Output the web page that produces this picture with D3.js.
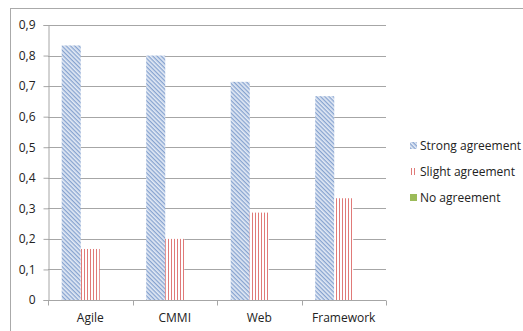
<!DOCTYPE html>
<html>
<head>
<meta charset="utf-8">
<script src="https://cdn.jsdelivr.net/npm/d3@7"></script>
<style>
  body { margin: 0; background: #fff; }
  text { font-family: "Open Sans", "Liberation Sans", sans-serif; fill: #222; }
</style>
</head>
<body>
<div id="chart"></div>
<script>
// datos
const categorias = ["Agile", "CMMI", "Web", "Framework"];
const series = ["Strong agreement", "Slight agreement", "No agreement"];
const strong = [0.833, 0.8, 0.714, 0.667];
const slight = [0.167, 0.2, 0.286, 0.333];
const none = [0, 0, 0, 0];
const yTicks = [0, 0.1, 0.2, 0.3, 0.4, 0.5, 0.6, 0.7, 0.8, 0.9];

const valores = [strong, slight, none];
const fills = ["url(#hatchBlue)", "url(#stripeRed)", "#9bbb59"];

const W = 523, H = 331;
const margin = { top: 25, left: 48, right: 137, bottom: 31 };

const svg = d3.select("#chart").append("svg")
  .attr("width", W).attr("height", H);

// patrones
const defs = svg.append("defs");
const pb = defs.append("pattern").attr("id", "hatchBlue")
  .attr("patternUnits", "userSpaceOnUse").attr("width", 3).attr("height", 3)
  .attr("patternTransform", "rotate(45)");
pb.append("rect").attr("width", 3).attr("height", 3).attr("fill", "#e3eaf5");
pb.append("rect").attr("width", 3).attr("height", 1.3).attr("fill", "#86a3d0");

const pr = defs.append("pattern").attr("id", "stripeRed")
  .attr("patternUnits", "userSpaceOnUse").attr("width", 3).attr("height", 3);
pr.append("rect").attr("width", 3).attr("height", 3).attr("fill", "#fff");
pr.append("rect").attr("width", 1).attr("height", 3).attr("fill", "#e07a78");

// borde exterior
svg.append("rect")
  .attr("x", 10.5).attr("y", 8.5)
  .attr("width", W + 20).attr("height", H + 20)
  .attr("fill", "none").attr("stroke", "#aaa");

const x = d3.scaleBand().domain(categorias)
  .range([margin.left, W - margin.right]);
const x1 = d3.scaleBand().domain(d3.range(series.length))
  .range([0, x.bandwidth()]).paddingOuter(0.72).paddingInner(0);
const y = d3.scaleLinear().domain([0, 0.9])
  .range([H - margin.bottom, margin.top]);

// líneas de cuadrícula
svg.append("g").selectAll("line").data(yTicks.slice(1)).join("line")
  .attr("x1", margin.left).attr("x2", W - margin.right)
  .attr("y1", d => Math.round(y(d)) + 0.5).attr("y2", d => Math.round(y(d)) + 0.5)
  .attr("stroke", "#a6a6a6");

// barras
const g = svg.append("g");
valores.forEach((vals, s) => {
  g.selectAll(null).data(vals).join("rect")
    .attr("x", (d, i) => x(categorias[i]) + x1(s))
    .attr("width", x1.bandwidth())
    .attr("y", d => y(d))
    .attr("height", d => y(0) - y(d))
    .attr("fill", fills[s]);
});

// eje Y
const ay = svg.append("g")
  .attr("transform", `translate(${margin.left + 0.5},0)`)
  .call(d3.axisLeft(y).tickValues(yTicks).tickSize(5).tickPadding(8)
    .tickFormat(d => d3.format(".1f")(d).replace(".", ",").replace(/^0,0$/, "0")));
ay.select(".domain").attr("stroke", "#a6a6a6");
ay.selectAll(".tick line").attr("stroke", "#a6a6a6");
ay.selectAll("text").style("font-size", "12px").attr("fill", "#222");

// eje X
const ax = svg.append("g")
  .attr("transform", `translate(0,${Math.round(y(0)) + 0.5})`);
ax.append("line")
  .attr("x1", margin.left).attr("x2", W - margin.right)
  .attr("stroke", "#a6a6a6");
ax.selectAll(".sep").data(categorias.concat([null])).join("line")
  .attr("class", "sep")
  .attr("x1", (d, i) => Math.round(margin.left + i * x.bandwidth()) + 0.5)
  .attr("x2", (d, i) => Math.round(margin.left + i * x.bandwidth()) + 0.5)
  .attr("y1", 0).attr("y2", 5).attr("stroke", "#a6a6a6");
ax.selectAll(".lab").data(categorias).join("text")
  .attr("class", "lab")
  .attr("x", d => x(d) + x.bandwidth() / 2)
  .attr("y", 21)
  .attr("text-anchor", "middle")
  .style("font-size", "12px")
  .text(d => d);

// leyenda
const leg = svg.append("g");
series.forEach((s, i) => {
  const yy = 146 + i * 26;
  leg.append("rect")
    .attr("x", 410).attr("y", yy - 4)
    .attr("width", 7).attr("height", 7)
    .attr("fill", fills[i]);
  leg.append("text")
    .attr("x", 420).attr("y", yy)
    .attr("dy", "0.35em")
    .style("font-size", "12px")
    .text(s);
});
</script>
</body>
</html>
